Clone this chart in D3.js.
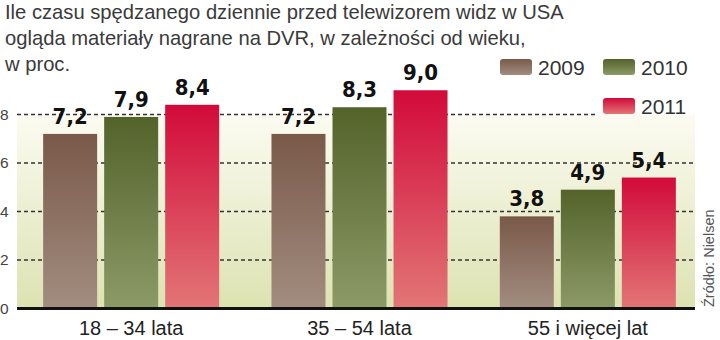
<!DOCTYPE html>
<html><head><meta charset="utf-8">
<script src="https://cdn.jsdelivr.net/npm/d3@7"></script>
<style>
html,body{margin:0;padding:0;background:#fff;}
svg{display:block;}
</style></head>
<body>
<script>
const categories = ["18 – 34 lata", "35 – 54 lata", "55 i więcej lat"];
const years = ["2009", "2010", "2011"];
const values2009 = [7.2, 7.2, 3.8];
const values2010 = [7.9, 8.3, 4.9];
const values2011 = [8.4, 9.0, 5.4];
const yTicks = [0, 2, 4, 6, 8];
const titleLines = [
  "Ile czasu spędzanego dziennie przed telewizorem widz w USA",
  "ogląda materiały nagrane na DVR, w zależności od wieku,",
  "w proc."
];
const sourceText = "Źródło: Nielsen";
const series = { "2009": values2009, "2010": values2010, "2011": values2011 };
const colors = {
  "2009": ["#7a5949", "#a28d80"],
  "2010": ["#53632a", "#8c9a68"],
  "2011": ["#d20a3a", "#e27676"]
};

const W = 720, H = 340;
const svg = d3.select("body").append("svg").attr("width", W).attr("height", H);
const defs = svg.append("defs");

years.forEach(yr => {
  const g = defs.append("linearGradient").attr("id", "g" + yr)
    .attr("x1", 0).attr("y1", 0).attr("x2", 0).attr("y2", 1);
  g.append("stop").attr("offset", "0%").attr("stop-color", colors[yr][0]);
  g.append("stop").attr("offset", "100%").attr("stop-color", colors[yr][1]);
});
const bg = defs.append("linearGradient").attr("id", "bg")
  .attr("x1", 0).attr("y1", 0).attr("x2", 0).attr("y2", 1);
bg.append("stop").attr("offset", "0%").attr("stop-color", "#fcfbf2");
bg.append("stop").attr("offset", "100%").attr("stop-color", "#dde2b1");

const plotL = 17, plotR = 695;
const y = d3.scaleLinear().domain([0, 8]).range([308.5, 114.5]);
const x0 = d3.scaleBand().domain(categories).range([17, 702]).paddingInner(0.229).paddingOuter(0.1145);
const x1 = d3.scaleBand().domain(years).range([0, x0.bandwidth()]).paddingInner(0.115).paddingOuter(0);

// background
svg.append("rect").attr("x", plotL).attr("y", y(8)).attr("width", plotR - plotL)
  .attr("height", y(0) - y(8)).attr("fill", "url(#bg)");

// gridlines
const grid = svg.append("g");
yTicks.filter(t => t > 0).forEach(t => {
  grid.append("line").attr("x1", plotL).attr("x2", t === 8 ? 598 : plotR)
    .attr("y1", y(t)).attr("y2", y(t))
    .attr("stroke", "#333").attr("stroke-width", 1.4).attr("stroke-dasharray", "4,3");
});

// y tick labels
svg.append("g").selectAll("text").data(yTicks).join("text")
  .attr("x", 0).attr("y", d => y(d)).attr("dy", "0.35em")
  .attr("font-family", "Liberation Sans, Arial, sans-serif").attr("font-size", 15.5)
  .attr("fill", "#444").text(d => d);

// bars
const groups = svg.append("g").selectAll("g").data(categories).join("g")
  .attr("transform", d => `translate(${x0(d)},0)`);
groups.selectAll("rect").data((c, i) => years.map(yr => ({ yr, v: series[yr][i] }))).join("rect")
  .attr("x", d => x1(d.yr)).attr("width", x1.bandwidth())
  .attr("y", d => y(d.v)).attr("height", d => y(0) - y(d.v))
  .attr("fill", d => `url(#g${d.yr})`);
groups.selectAll("text").data((c, i) => years.map(yr => ({ yr, v: series[yr][i] }))).join("text")
  .attr("x", d => x1(d.yr) + x1.bandwidth() / 2).attr("y", d => y(d.v) - 10)
  .attr("text-anchor", "middle")
  .attr("font-family", "DejaVu Sans Condensed, DejaVu Sans, sans-serif")
  .attr("font-stretch", "condensed").attr("font-weight", "bold").attr("font-size", 22)
  .attr("fill", "#111").text(d => d3.format(".1f")(d.v).replace(".", ","));

// baseline
svg.append("line").attr("x1", plotL).attr("x2", plotR).attr("y1", y(0)).attr("y2", y(0))
  .attr("stroke", "#111").attr("stroke-width", 3);

// x labels
svg.append("g").selectAll("text").data(categories).join("text")
  .attr("x", d => x0(d) + x0.bandwidth() / 2).attr("y", 335)
  .attr("text-anchor", "middle")
  .attr("font-family", "Liberation Sans, Arial, sans-serif").attr("font-size", 20)
  .attr("fill", "#222").text(d => d);

// title
svg.append("g").selectAll("text").data(titleLines).join("text")
  .attr("x", 5).attr("y", (d, i) => 19 + i * 26)
  .attr("font-family", "Liberation Sans, Arial, sans-serif").attr("font-size", 20.2)
  .attr("fill", "#3a3a3a").text(d => d);

// legend
const legendPos = { "2009": [500, 59], "2010": [603, 59], "2011": [603, 98] };
const leg = svg.append("g");
years.forEach(yr => {
  const [lx, ly] = legendPos[yr];
  leg.append("rect").attr("x", lx).attr("y", ly).attr("width", 32).attr("height", 16)
    .attr("rx", 3).attr("fill", `url(#g${yr})`);
  leg.append("text").attr("x", lx + 38).attr("y", ly + 16)
    .attr("font-family", "Liberation Sans, Arial, sans-serif").attr("font-size", 21)
    .attr("fill", "#333").text(yr);
});

// source
svg.append("text").attr("transform", "translate(714,307) rotate(-90)")
  .attr("font-family", "Liberation Sans, Arial, sans-serif").attr("font-size", 14.5)
  .attr("fill", "#555").text(sourceText);
</script>
</body></html>
